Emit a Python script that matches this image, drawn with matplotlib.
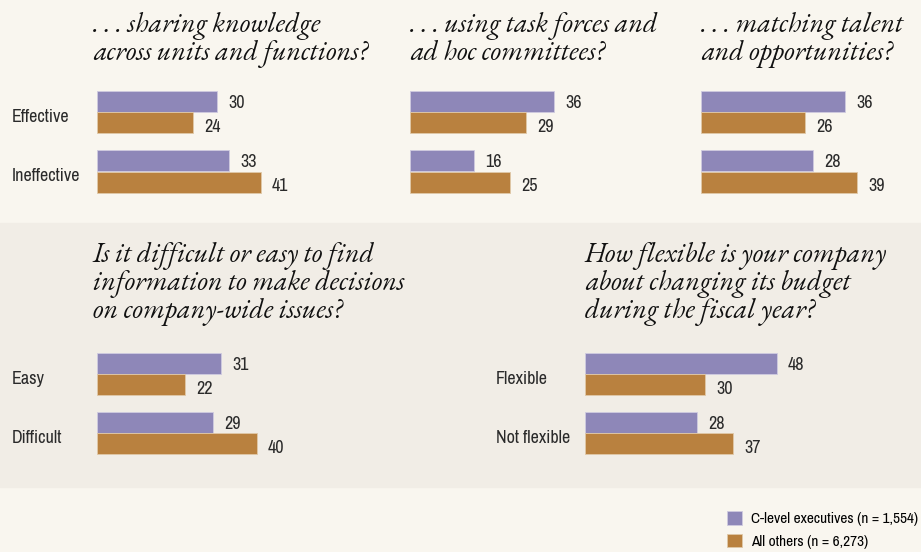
import matplotlib
matplotlib.use("Agg")
import matplotlib.pyplot as plt
import matplotlib.transforms as mtransforms
from matplotlib.patches import Rectangle

# ------------------------------
# DATA
# ------------------------------
titles = [
    ". . . sharing knowledge\nacross units and functions?",
    ". . . using task forces and\nad hoc committees?",
    ". . . matching talent\nand opportunities?",
    "Is it difficult or easy to find\ninformation to make decisions\non company-wide issues?",
    "How flexible is your company\nabout changing its budget\nduring the fiscal year?",
]
categories = [
    ["Effective", "Ineffective"],
    ["Effective", "Ineffective"],
    ["Effective", "Ineffective"],
    ["Easy", "Difficult"],
    ["Flexible", "Not flexible"],
]
show_cats = [True, False, False, True, True]
clevel = [[30, 33], [36, 16], [36, 28], [31, 29], [48, 28]]
others = [[24, 41], [29, 25], [26, 39], [22, 40], [30, 37]]
legend_labels = ["C-level executives (n = 1,554)", "All others (n = 6,273)"]

# ------------------------------
# STYLE / LAYOUT (pixels)
# ------------------------------
W, H = 921, 552
PURPLE = "#8e87b8"
ORANGE = "#b9813f"
BG = "#f9f6ef"
BAND = "#f1ede6"
TXT = "#2a2a2a"
SANS = ["Archivo Narrow", "Liberation Sans", "DejaVu Sans"]
SERIF = ["EB Garamond", "Liberation Serif", "DejaVu Serif"]

# bar x0, axes top, title x, last title line baseline, category label x
layout = [
    (97, 83, 93, 60, 12),
    (410, 83, 410, 60, None),
    (701, 83, 701, 60, None),
    (97, 344.5, 93, 318, 12),
    (585, 344.5, 585, 318, 496),
]
AX_W, AX_H = 200, 118
XMAX = 50
BAR_H = 21 / 59


def px(x, y, w=0, h=0):
    # pixel box (top-left origin) -> figure fraction
    return [x / W, 1 - (y + h) / H, w / W, h / H]


fig = plt.figure(figsize=(W / 100, H / 100), dpi=100, facecolor=BG)
fig.patches.append(Rectangle((0, 1 - 487 / H), 1, (487 - 223) / H,
                             transform=fig.transFigure, color=BAND, zorder=-5))

bars = []
for i in range(5):
    x0, top, tx, ty, lx = layout[i]
    ax = fig.add_axes(px(x0, top, AX_W, AX_H))
    ax.set_xlim(0, XMAX)
    ax.set_ylim(1.5, -0.5)
    ax.axis("off")

    ypos = [0, 1]
    b1 = ax.barh([y - BAR_H / 2 for y in ypos], clevel[i], height=BAR_H,
                 color=PURPLE, edgecolor="#cfcbe0", linewidth=0.6, label=legend_labels[0])
    b2 = ax.barh([y + BAR_H / 2 for y in ypos], others[i], height=BAR_H,
                 color=ORANGE, edgecolor="#e0c9a8", linewidth=0.6, label=legend_labels[1])
    bars = [b1, b2]

    for y, v in zip(ypos, clevel[i]):
        ax.annotate(str(v), (v, y - BAR_H / 2 + 0.02), xytext=(8, 0), textcoords="offset points",
                    va="center", ha="left", fontsize=13, family=SANS, color=TXT)
    for y, v in zip(ypos, others[i]):
        ax.annotate(str(v), (v, y + BAR_H / 2 + 0.07), xytext=(8, 0), textcoords="offset points",
                    va="center", ha="left", fontsize=13, family=SANS, color=TXT)

    if show_cats[i]:
        trans = mtransforms.blended_transform_factory(fig.transFigure, ax.transData)
        for y, c in zip(ypos, categories[i]):
            ax.text(lx / W, y + 0.08, c, transform=trans, va="center", ha="left",
                    fontsize=13, family=SANS, color=TXT)

    fig.text(tx / W, 1 - ty / H, titles[i], va="baseline", ha="left",
             fontsize=20, family=SERIF, style="italic", color="#111111",
             linespacing=1.0)

fig.legend(handles=bars, labels=legend_labels, loc="upper left",
           bbox_to_anchor=(727 / W, 1 - 511 / H), frameon=False,
           handlelength=1.0, handleheight=1.0, handletextpad=0.55,
           labelspacing=0.5, borderpad=0, borderaxespad=0,
           prop={"family": SANS, "size": 11})

fig.savefig("out.png", dpi=100, facecolor=BG)
